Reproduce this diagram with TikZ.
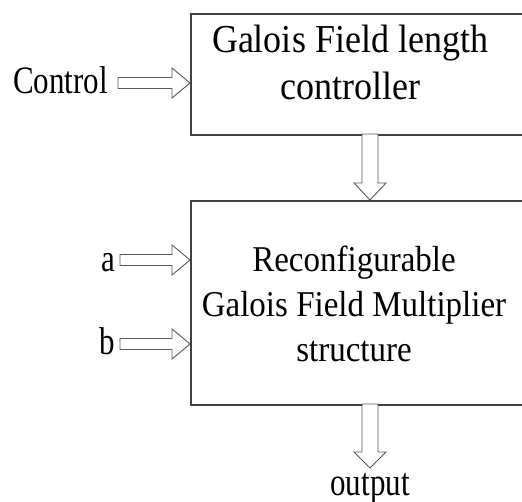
\documentclass[tikz,border=0pt]{standalone}
\usepackage{fontspec}
\setmainfont{Liberation Serif}
\usepackage{graphicx}
\begin{document}
\begin{tikzpicture}[x=1pt,y=-1pt,
  box/.style={draw=black!75, line width=1.6pt, anchor=north west, inner sep=0pt},
  barrow/.style={draw=black!65, line width=0.9pt, fill=white, line join=miter},
  lbl/.style={inner sep=0pt, anchor=base}]
\useasboundingbox (0,0) rectangle (522,502);
\clip (0,0) rectangle (522,502);
\fill[white] (0,0) rectangle (522,502);
% blocks (cropped on the right, as in the reference)
\node[box, minimum width=380pt, minimum height=121pt] (ctrl) at (190,13) {};
\node[box, minimum width=380pt, minimum height=204pt] (mult) at (190,200) {};
% block texts
\node[lbl] (ctrltxt) at (350,53) {\fontsize{36}{42.7}\selectfont\scalebox{1}[1.1]{\begin{tabular}[t]{@{}c@{}}Galois Field length\\controller\end{tabular}}};
\node[lbl] (multtxt) at (354,272) {\fontsize{33}{40.5}\selectfont\scalebox{1}[1.1]{\begin{tabular}[t]{@{}c@{}}Reconfigurable\\Galois Field Multiplier\\structure\end{tabular}}};
% outside labels
\node[lbl, anchor=base east] (control) at (108,94) {\fontsize{31}{31}\selectfont\scalebox{1}[1.25]{Control}};
\node[lbl, anchor=base east] (ina) at (115,272) {\fontsize{31}{31}\selectfont\scalebox{1}[1.25]{a}};
\node[lbl, anchor=base east] (inb) at (115,355) {\fontsize{31}{31}\selectfont\scalebox{1}[1.25]{b}};
\node[lbl] (out) at (370,495) {\fontsize{31}{31}\selectfont\scalebox{1}[1.27]{output}};
% arrow tips
\coordinate (tc) at (ctrl.west |- 0,83);
\coordinate (ta) at (mult.west |- 0,260);
\coordinate (tb) at (mult.west |- 0,344);
\coordinate (td) at (370,200);
\coordinate (to) at (370,468);
% block arrows
\draw[barrow] (tc) -- ++(-18,-15) -- ++(0,9.5) -- ++(-54,0) -- ++(0,11) -- ++(54,0) -- ++(0,9.5) -- cycle;
\draw[barrow] (ta) -- ++(-18,-15) -- ++(0,9.5) -- ++(-52,0) -- ++(0,11) -- ++(52,0) -- ++(0,9.5) -- cycle;
\draw[barrow] (tb) -- ++(-18,-15) -- ++(0,9.5) -- ++(-52,0) -- ++(0,11) -- ++(52,0) -- ++(0,9.5) -- cycle;
\draw[barrow] (td) -- ++(-16,-17) -- ++(8,0) -- ++(0,-49) -- ++(16,0) -- ++(0,49) -- ++(8,0) -- cycle;
\draw[barrow] (to) -- ++(-16,-16) -- ++(8,0) -- ++(0,-48) -- ++(16,0) -- ++(0,48) -- ++(8,0) -- cycle;
\end{tikzpicture}
\end{document}
